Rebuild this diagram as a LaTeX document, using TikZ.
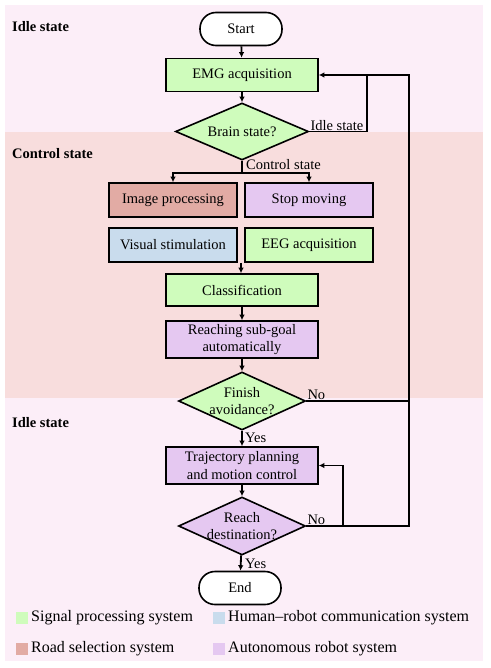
\documentclass[tikz,border=0pt]{standalone}
\usepackage{fontspec}
\setmainfont{Liberation Serif}
\usetikzlibrary{shapes.geometric,arrows.meta,calc}
\definecolor{idlebg}{HTML}{FCEEF8}
\definecolor{ctrlbg}{HTML}{F8DDDD}
\definecolor{cgreen}{HTML}{CFFCBC}
\definecolor{cred}{HTML}{E2ABA4}
\definecolor{cpurple}{HTML}{E5C8F1}
\definecolor{cblue}{HTML}{C9DCED}
\begin{document}
\begin{tikzpicture}[x=1pt,y=-1pt,
  txt/.style={font=\fontsize{14.5}{17.5}\selectfont},
  box/.style={draw, line width=1.6pt, minimum width=152pt, minimum height=33pt, txt, align=center, inner sep=2pt},
  smallbox/.style={box, minimum width=128pt, minimum height=34pt},
  decision/.style={diamond, draw, line width=1.6pt, minimum width=127pt, minimum height=58pt, inner sep=0pt},
  dtext/.style={txt, align=center},
  term/.style={draw, line width=1.6pt, rounded corners=16pt, minimum width=82pt, minimum height=33pt, fill=white, txt},
  conn/.style={line width=1.8pt},
  arr/.style={conn, -{Latex[length=5.5pt,width=5.5pt]}},
  sect/.style={font=\fontsize{14.5}{17}\selectfont\bfseries, inner sep=0pt},
  lbl/.style={txt, inner sep=1pt},
  swatch/.style={minimum width=12pt, minimum height=12pt, inner sep=0pt},
  leg/.style={font=\fontsize{16}{18}\selectfont, inner sep=2pt}]
\useasboundingbox (0,0) rectangle (490,668);
\fill[idlebg] (5,5) rectangle (483,132);
\fill[ctrlbg] (5,132) rectangle (483,398);
\fill[idlebg] (5,398) rectangle (483,661);

% section labels
\node[sect, anchor=west] (s1) at (12,27) {Idle state};
\node[sect, anchor=west] (s2) at (12,154) {Control state};
\node[sect, anchor=west] (s3) at (12,423) {Idle state};

% nodes
\node[term] (start) at (241,29) {Start};
\node[box, fill=cgreen] (emg) at (242,75) {EMG acquisition};
\node[decision, fill=cgreen, minimum width=133pt, minimum height=57pt,
      label={[dtext]center:{Brain state?}}] (brain) at (242,131.5) {};
\node[smallbox, fill=cred] (img) at (173,200) {Image processing};
\node[smallbox, fill=cpurple] (stop) at (309,200) {Stop moving};
\node[smallbox, fill=cblue] (vis) at (173,245) {Visual stimulation};
\node[smallbox, fill=cgreen] (eeg) at (309,245) {EEG acquisition};
\node[box, fill=cgreen, minimum height=32pt] (cls) at (242,290) {Classification};
\node[box, fill=cpurple, minimum height=37pt] (sub) at (242,339.5) {Reaching sub-goal\\automatically};
\node[decision, fill=cgreen, label={[dtext]center:{Finish\\avoidance?}}] (fin) at (242,401) {};
\node[box, fill=cpurple, minimum height=37pt] (traj) at (242,465.5) {Trajectory planning\\and motion control};
\node[decision, fill=cpurple, label={[dtext]center:{Reach\\destination?}}] (dest) at (242,526) {};
\node[term] (end) at (240,588) {End};

% helper coordinates
\coordinate (br) at ($(brain.south)+(0,12)$);
\coordinate (mid) at ($(vis.south east)!0.5!(eeg.south west)$);
\coordinate (outer) at (409,0);
\coordinate (inner) at (367,0);
\coordinate (inner2) at (343,0);

% connectors
\draw[arr] (start) -- (emg);
\draw[arr] (emg) -- (brain);
\draw[conn] (brain.south) -- (br);
\draw[arr] (br) -| (img.north);
\draw[arr] (br) -| (stop.north);
\draw[arr] (mid) -- (mid |- cls.north);
\draw[arr] (cls) -- (sub);
\draw[arr] (sub) -- (fin);
\draw[arr] (fin) -- (traj);
\draw[arr] (traj) -- (dest);
\draw[arr] (dest) -- (end);
\draw[conn] (brain.east) -| (inner |- emg.east);
\draw[arr] (fin.east) -| (outer |- emg.east) -- (emg.east);
\draw[conn] (dest.east) -| (outer |- fin.east);
\draw[arr] (inner2 |- dest.east) |- (traj.east);

% connector labels
\node[lbl, anchor=south west] (lidle) at (brain.east) {Idle state};
\node[lbl, anchor=west] (lctrl) at (245,165) {Control state};
\node[lbl, anchor=south west] (lno1) at (fin.east) {No};
\node[lbl, anchor=west] (lyes1) at (244,438) {Yes};
\node[lbl, anchor=south west] (lno2) at (dest.east) {No};
\node[lbl, anchor=west] (lyes2) at (244,564) {Yes};

% legend
\node[swatch, fill=cgreen] (k1) at (22,618) {};
\node[leg, anchor=west] (t1) at (29,618) {Signal processing system};
\node[swatch, fill=cblue] (k2) at (219,618) {};
\node[leg, anchor=west] (t2) at (226,618) {Human–robot communication system};
\node[swatch, fill=cred] (k3) at (22,649) {};
\node[leg, anchor=west] (t3) at (29,649) {Road selection system};
\node[swatch, fill=cpurple] (k4) at (219,649) {};
\node[leg, anchor=west] (t4) at (226,649) {Autonomous robot system};
\end{tikzpicture}
\end{document}
